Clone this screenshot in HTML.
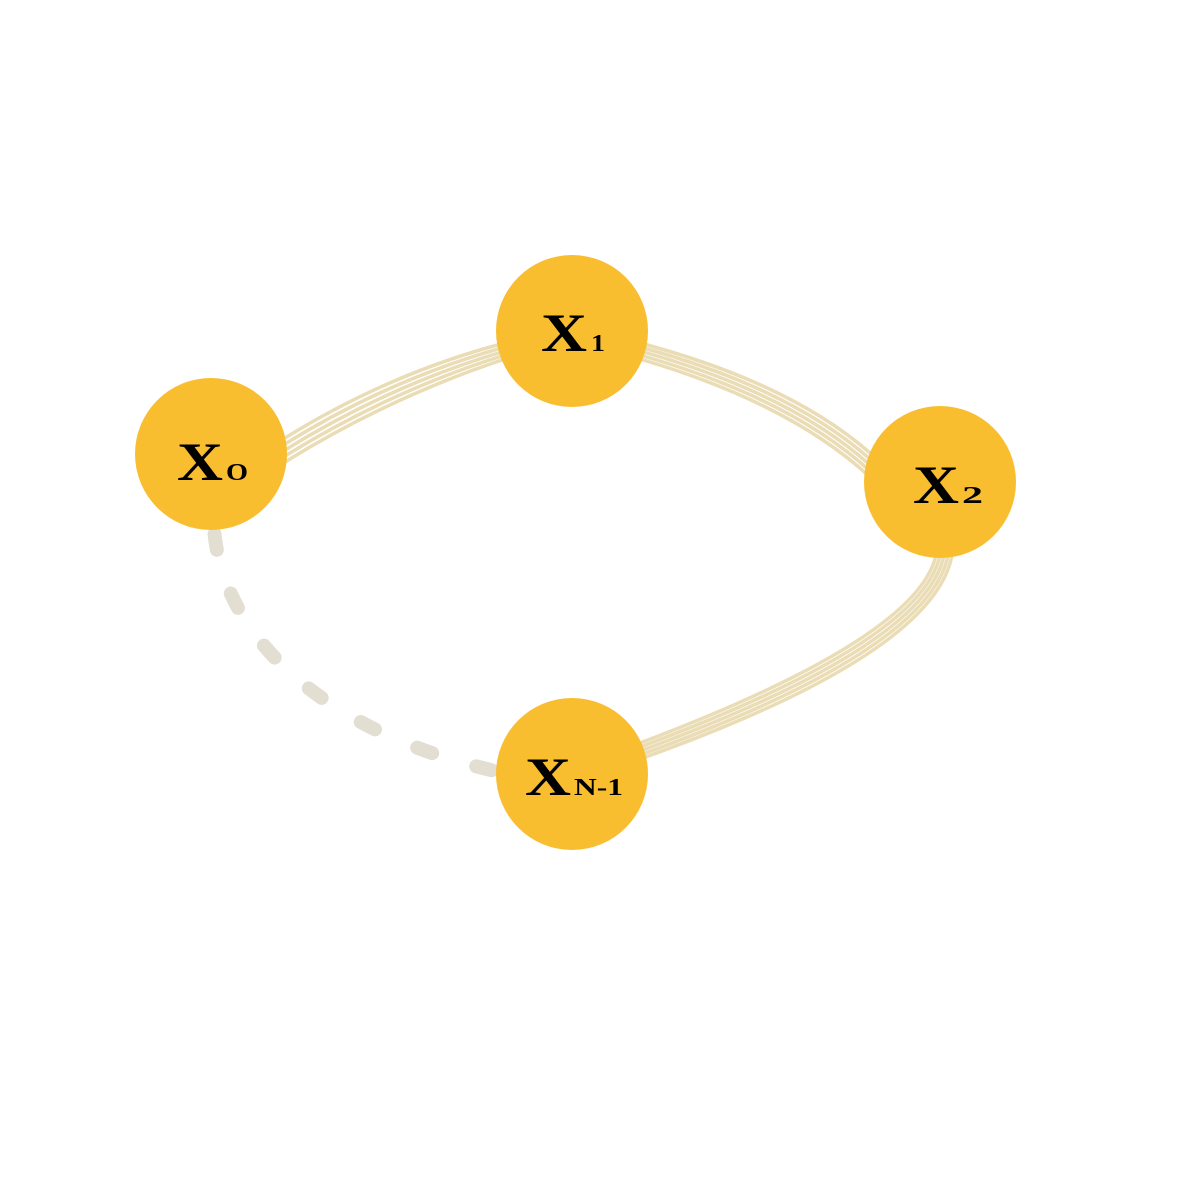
<!DOCTYPE html>
<html><head><style>html,body{margin:0;padding:0;background:#fff}</style></head>
<body>
<svg width="1181" height="1181" viewBox="0 0 1181 1181" xmlns="http://www.w3.org/2000/svg">
<g fill="none" stroke="#eadcb4" stroke-width="3.5">
<path d="M285 438 Q390 373 505 343"/>
<path d="M285 444 Q390 379 505 347"/>
<path d="M285 450 Q390 385 505 351"/>
<path d="M285 456 Q390 391 505 355"/>
<path d="M285 462 Q390 397 505 359"/>
<path d="M640 343 Q790 383 870 453"/>
<path d="M640 347 Q790 388 870 459"/>
<path d="M640 351 Q790 393 870 465"/>
<path d="M640 355 Q790 398 870 471"/>
<path d="M640 359 Q790 403 870 477"/>
<path d="M936 555 Q918 638 640 743"/>
<path d="M940 555 Q922 642 640 747"/>
<path d="M944 555 Q926 646 640 751"/>
<path d="M948 555 Q930 650 640 755"/>
<path d="M952 555 Q934 654 640 759"/>
</g>
<path d="M214 528 C222 640 330 735 500 772" fill="none" stroke="#e2ded2" stroke-width="14" stroke-linecap="round" stroke-dasharray="16 46" stroke-dashoffset="-6"/>
<g fill="#f9bd30">
<circle cx="211" cy="454" r="76"/>
<circle cx="572" cy="331" r="76"/>
<circle cx="940" cy="482" r="76"/>
<circle cx="572" cy="774" r="76"/>
</g>
<g font-family="Liberation Serif, serif" font-weight="bold" fill="#000">
<text x="177" y="480" font-size="54" textLength="46" lengthAdjust="spacingAndGlyphs">X</text>
<text x="226" y="480" font-size="24" textLength="22" lengthAdjust="spacingAndGlyphs">O</text>
<text x="541" y="351" font-size="54" textLength="46" lengthAdjust="spacingAndGlyphs">X</text>
<text x="591" y="351" font-size="24" textLength="14" lengthAdjust="spacingAndGlyphs">1</text>
<text x="913" y="503" font-size="54" textLength="46" lengthAdjust="spacingAndGlyphs">X</text>
<text x="962" y="503" font-size="24" textLength="21" lengthAdjust="spacingAndGlyphs">2</text>
<text x="525" y="795" font-size="54" textLength="46" lengthAdjust="spacingAndGlyphs">X</text>
<text x="574" y="795" font-size="24" textLength="49" lengthAdjust="spacingAndGlyphs">N-1</text>
</g>
</svg>
</body></html>
